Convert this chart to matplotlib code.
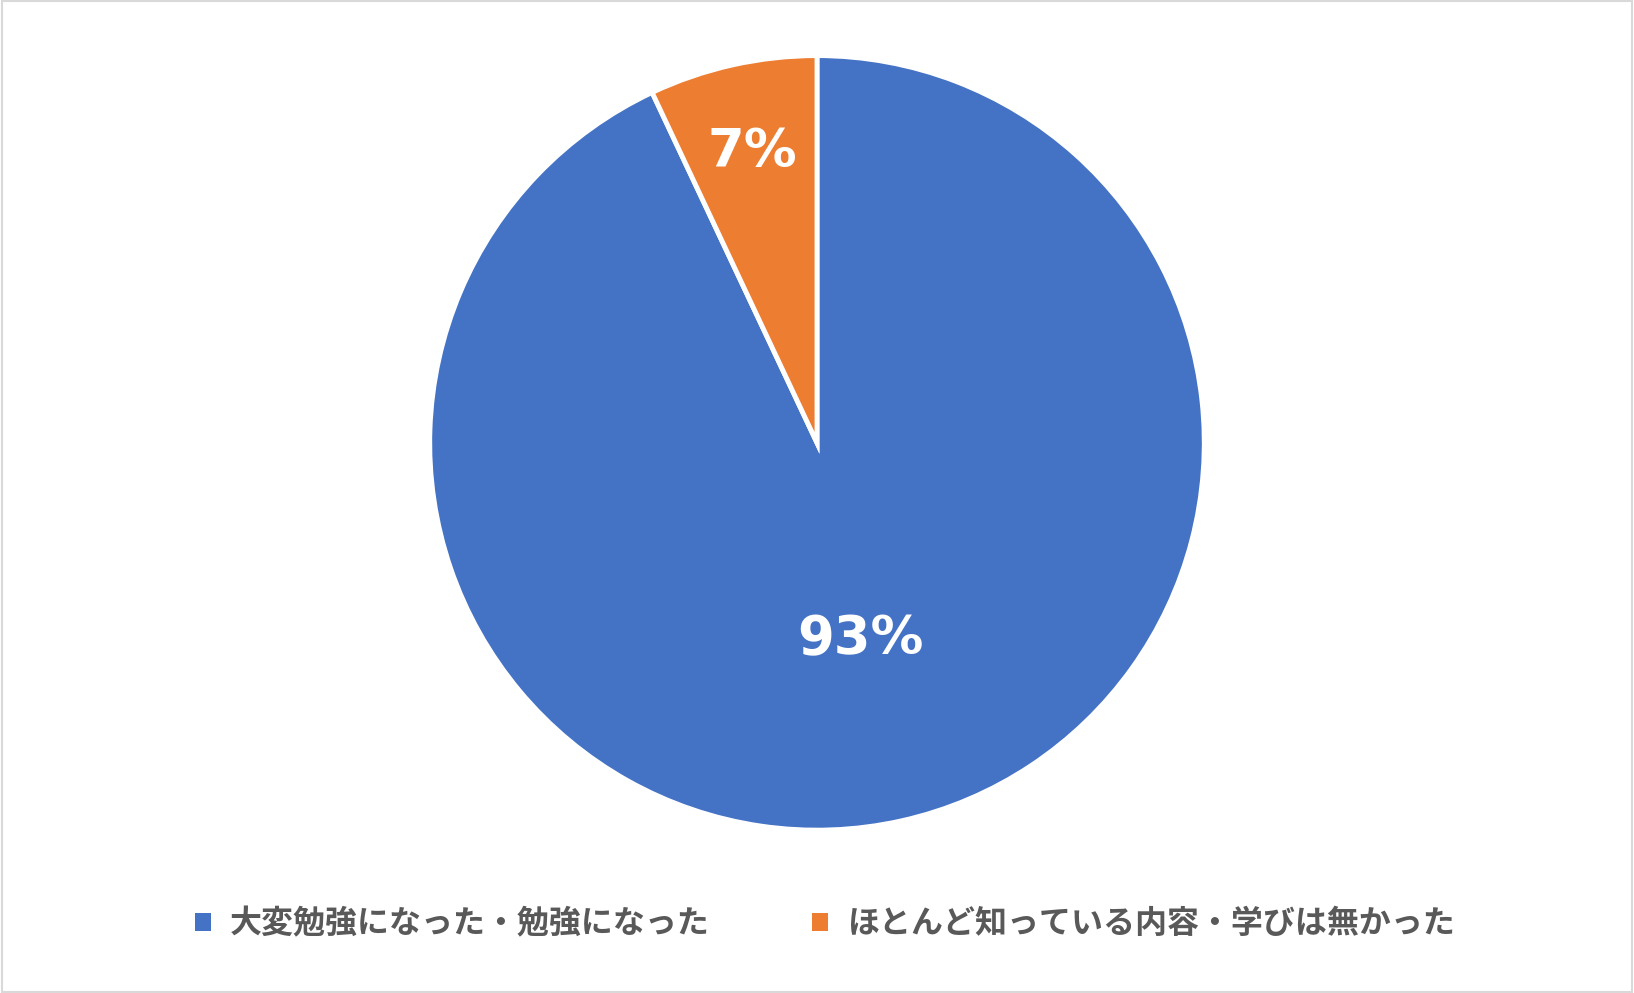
import matplotlib
matplotlib.use("Agg")
import matplotlib.pyplot as plt
import numpy as np
from matplotlib.patches import Rectangle

plt.rcParams['font.family'] = ['Noto Sans CJK JP', 'DejaVu Sans']

labels = ["大変勉強になった・勉強になった", "ほとんど知っている内容・学びは無かった"]
values = [93, 7]
colors = ["#4472C4", "#ED7D31"]

fig = plt.figure(figsize=(16.34, 9.93), dpi=100)
fig.patches.append(Rectangle((0.001, 0.001), 0.998, 0.998, transform=fig.transFigure,
                             fill=False, edgecolor="#D9D9D9", linewidth=1.5))
ax = fig.add_axes([0.1, 0.164, 0.8, 0.78])
wedges, texts, autotexts = ax.pie(values, colors=colors, startangle=90, counterclock=False,
                                  autopct=lambda p: f"{p:.0f}%", pctdistance=0.52,
                                  wedgeprops=dict(edgecolor="white", linewidth=3.5),
                                  textprops=dict(color="white", fontsize=38, fontweight="bold",
                                                 family=['DejaVu Sans']))
w = wedges[1]
ang = np.deg2rad((w.theta1 + w.theta2) / 2)
autotexts[1].set_position((0.77 * np.cos(ang), 0.77 * np.sin(ang)))
ax.set_aspect("equal")
ax.set_xlim(-1.0, 1.0)
ax.set_ylim(-1.0, 1.0)

leg = fig.legend(wedges, labels, loc="center", bbox_to_anchor=(0.505, 0.069), ncol=2,
                 frameon=False, handlelength=0.5, handleheight=0.5,
                 columnspacing=3.2, handletextpad=0.6,
                 prop=dict(family=['Noto Sans CJK JP'], weight='bold', size=23))
for t in leg.get_texts():
    t.set_color("#595959")
for h in leg.legend_handles:
    h.set_edgecolor("none")

fig.savefig("out.png", dpi=100)
